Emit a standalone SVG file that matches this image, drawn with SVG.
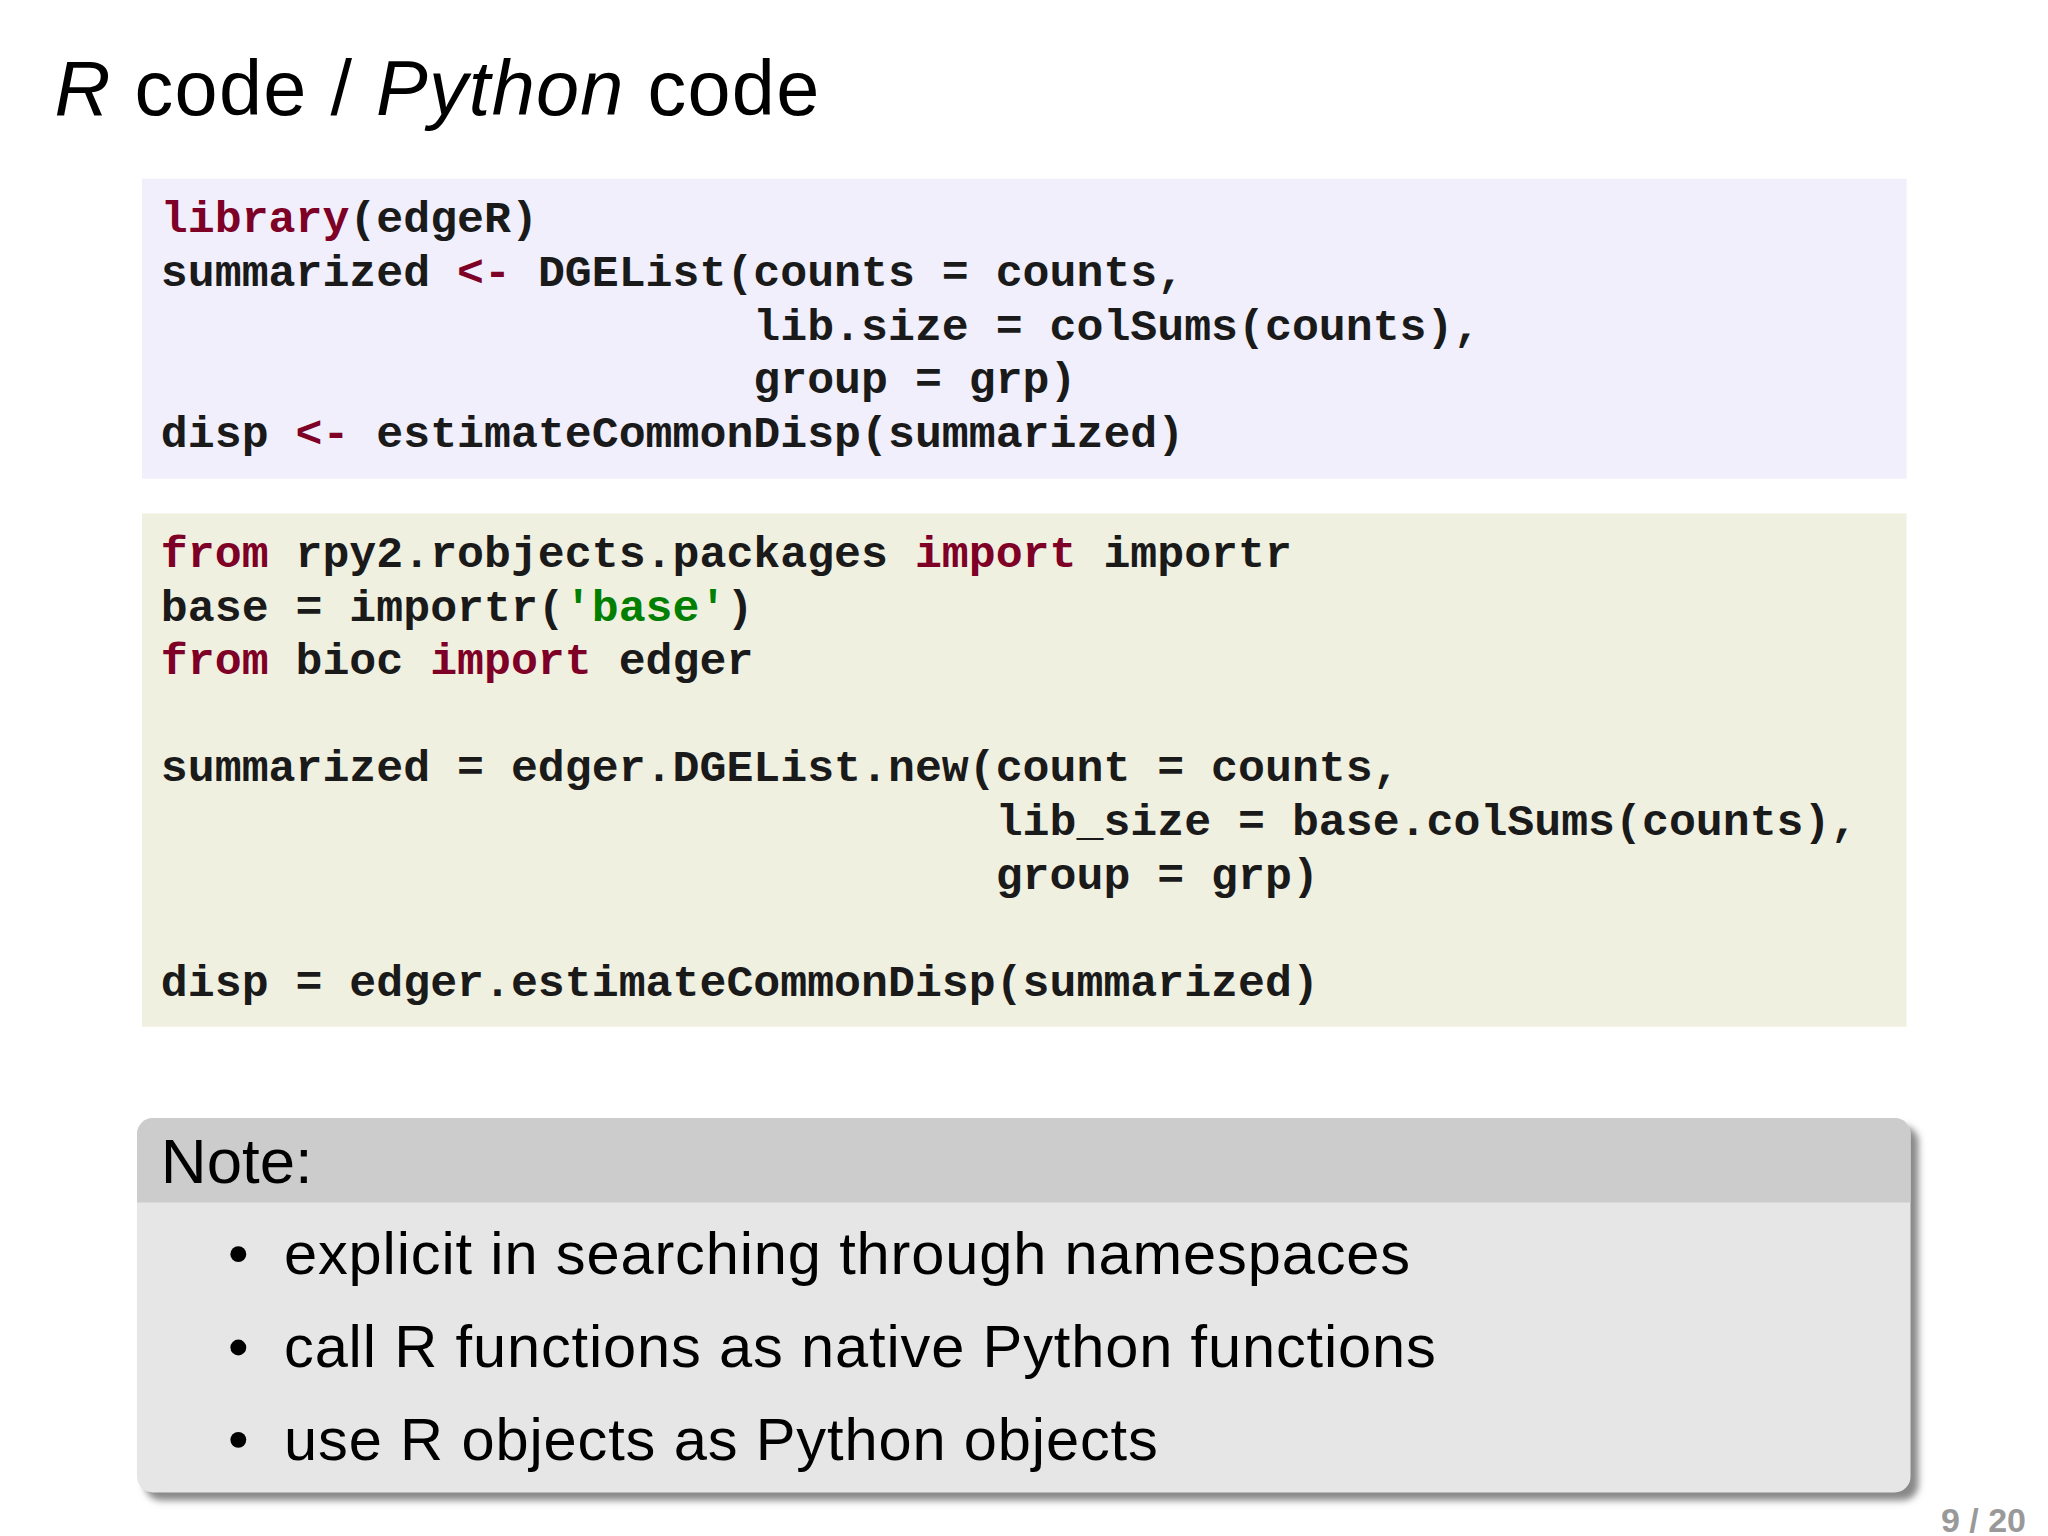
<svg xmlns="http://www.w3.org/2000/svg" width="2048" height="1536" viewBox="0 0 2048 1536">
<style>
.c{font-family:"Liberation Mono",monospace;font-weight:bold;font-size:45.2px;fill:#1a1a1a;white-space:pre}
.k{fill:#7f0026}.s{fill:#007f00}
.n{font-family:"Liberation Sans",Arial,sans-serif;fill:#000}
</style>
<defs><filter id="sh" x="-5%" y="-5%" width="110%" height="115%"><feGaussianBlur stdDeviation="4"/></filter></defs>
<rect width="2048" height="1536" fill="#fff"/>
<g transform="scale(0.993)">
<g id="title"><text class="n" x="55" y="116" font-size="78" textLength="770"><tspan font-style="italic">R</tspan> code / <tspan font-style="italic">Python</tspan> code</text></g>
<g id="rcode">
<rect x="143" y="180" width="1777" height="302" fill="#f0effb"/>
<text class="c" x="162" y="234" xml:space="preserve"><tspan class="k">library</tspan>(edgeR)</text>
<text class="c" x="162" y="288" xml:space="preserve">summarized <tspan class="k">&lt;-</tspan> DGEList(counts = counts,</text>
<text class="c" x="162" y="342" xml:space="preserve">                      lib.size = colSums(counts),</text>
<text class="c" x="162" y="396" xml:space="preserve">                      group = grp)</text>
<text class="c" x="162" y="450" xml:space="preserve">disp <tspan class="k">&lt;-</tspan> estimateCommonDisp(summarized)</text>
</g>
<g id="pycode">
<rect x="143" y="517" width="1777" height="517" fill="#f0f0e1"/>
<text class="c" x="162" y="571" xml:space="preserve"><tspan class="k">from</tspan> rpy2.robjects.packages <tspan class="k">import</tspan> importr</text>
<text class="c" x="162" y="625" xml:space="preserve">base = importr(<tspan class="s">'base'</tspan>)</text>
<text class="c" x="162" y="679" xml:space="preserve"><tspan class="k">from</tspan> bioc <tspan class="k">import</tspan> edger</text>
<text class="c" x="162" y="787" xml:space="preserve">summarized = edger.DGEList.new(count = counts,</text>
<text class="c" x="162" y="841" xml:space="preserve">                               lib_size = base.colSums(counts),</text>
<text class="c" x="162" y="895" xml:space="preserve">                               group = grp)</text>
<text class="c" x="162" y="1003" xml:space="preserve">disp = edger.estimateCommonDisp(summarized)</text>
</g>
<g id="note">
<rect x="146" y="1134" width="1786" height="377" rx="16" fill="#888" filter="url(#sh)"/>
<rect x="138" y="1126" width="1786" height="377" rx="16" fill="#e6e6e6"/>
<path d="M138 1211 V1142 A16 16 0 0 1 154 1126 H1908 A16 16 0 0 1 1924 1142 V1211 Z" fill="#cccccc"/>
<text class="n" x="162" y="1191" font-size="64">Note:</text>
<circle cx="240" cy="1263" r="8" fill="#000"/>
<text class="n" x="286" y="1283" font-size="60" textLength="1134">explicit in searching through namespaces</text>
<circle cx="240" cy="1357" r="8" fill="#000"/>
<text class="n" x="286" y="1377" font-size="60" textLength="1160">call R functions as native Python functions</text>
<circle cx="240" cy="1450" r="8" fill="#000"/>
<text class="n" x="286" y="1470" font-size="60" textLength="880">use R objects as Python objects</text>
</g>
</g>
<g id="page"><text class="n" x="2026" y="1532" font-size="34" font-weight="bold" text-anchor="end" style="fill:#999">9 / 20</text></g>
</svg>
